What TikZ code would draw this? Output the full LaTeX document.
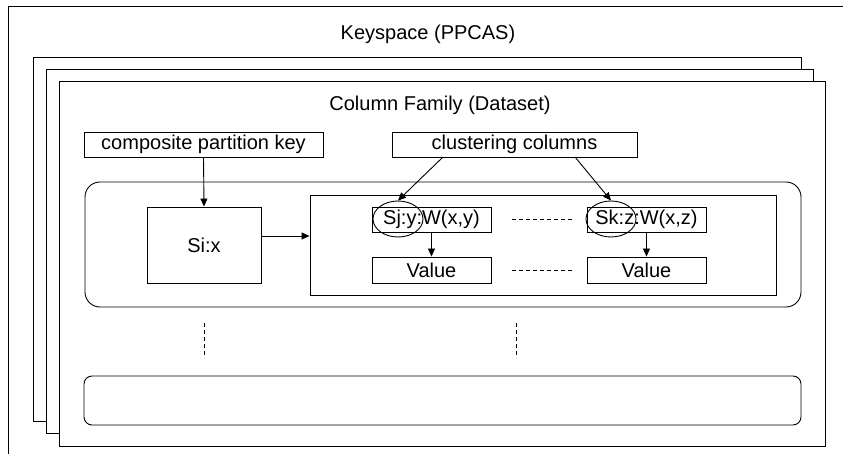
\documentclass[tikz,border=0pt]{standalone}
\usepackage{fontspec}
\setmainfont{Liberation Sans}
\usetikzlibrary{arrows.meta,shapes.geometric}
\begin{document}
\begin{tikzpicture}[x=1pt,y=-1pt,
  line width=0.9pt,
  every node/.style={font=\fontsize{20}{24}\selectfont},
  box/.style={draw,rectangle,inner sep=0pt},
  label/.style={inner sep=0pt},
  ring/.style={draw,ellipse,inner sep=0pt,minimum width=50pt,minimum height=36pt},
  arr/.style={-{Triangle[length=8pt,width=7pt]}},
  dots/.style={dash pattern=on 4pt off 3pt,line width=0.7pt},
  group/.style={draw,rounded corners=#1}]
\useasboundingbox (0,0) rectangle (843,454);

% keyspace frame (runs off the right and bottom)
\draw (843,6) -- (8,6) -- (8,454);
\node[label] (ks) at (428,34) {Keyspace (PPCAS)};

% stacked column family sheets
\draw[fill=white] (33,57) rectangle (801,421);
\draw[fill=white] (46,69) rectangle (813,433);
\draw[fill=white] (59,81) rectangle (825,446);
\node[label] (cf) at (440,105) {Column Family (Dataset)};

% key headers
\node[box,minimum width=239pt,minimum height=25pt] (cpk) at (203.5,144.5) {composite partition key};
\node[box,minimum width=245pt,minimum height=25pt] (cc) at (514.5,144.5) {clustering columns};

% partition row
\draw[group=15pt] (85,182) rectangle (801,307);
\node[box,minimum width=114pt,minimum height=76pt] (si) at (204,245) {Si:x};
\node[box,minimum width=466pt,minimum height=100pt] (inner) at (543,245) {};
\node[box,minimum width=119pt,minimum height=25pt] (sj) at (431.5,219.5) {Sj:y:W(x,y)};
\node[box,minimum width=119pt,minimum height=25pt] (sk) at (646.5,219.5) {Sk:z:W(x,z)};
\node[box,minimum width=119pt,minimum height=26pt] (v1) at (431.5,270) {Value};
\node[box,minimum width=119pt,minimum height=26pt] (v2) at (646.5,270) {Value};
\node[ring] (e1) at (398,219) {};
\node[ring] (e2) at (611,219) {};

% connectors
\coordinate (arry) at (0,236);
\coordinate (c1) at (443,157);
\coordinate (c2) at (575,157);
\draw[arr] (cpk.south) -- (si.north);
\draw[arr] (si.east |- arry) -- (inner.west |- arry);
\draw[arr] (c1) -- (e1.north);
\draw[arr] (c2) -- (e2.north);
\draw[arr] (sj.south) -- (v1.north);
\draw[arr] (sk.south) -- (v2.north);

% elided columns
\coordinate (d1a) at (512,219); \coordinate (d1b) at (575,219);
\coordinate (d2a) at (512,270); \coordinate (d2b) at (575,270);
\draw[dots] (d1a) -- (d1b);
\draw[dots] (d2a) -- (d2b);

% elided rows
\coordinate (r1a) at (204,323); \coordinate (r1b) at (204,358);
\coordinate (r2a) at (516,323); \coordinate (r2b) at (516,358);
\draw[dots] (r1a) -- (r1b);
\draw[dots] (r2a) -- (r2b);

% last partition row
\draw[group=8pt] (84,376) rectangle (801,425);
\end{tikzpicture}
\end{document}
